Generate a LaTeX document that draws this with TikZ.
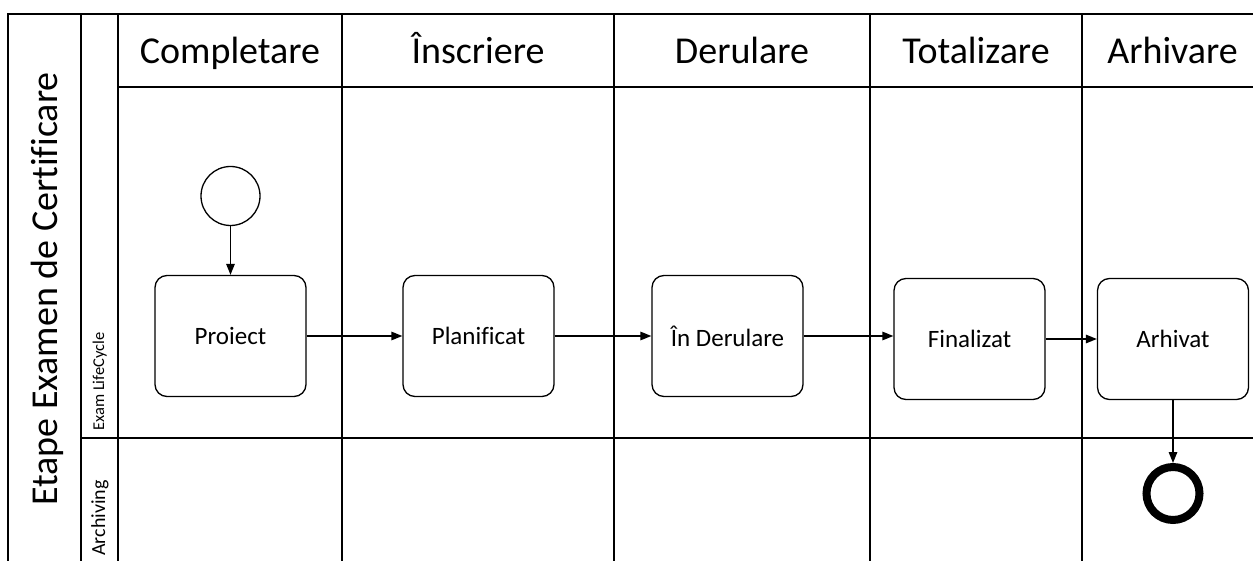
\documentclass[tikz,border=0pt]{standalone}
\usepackage{fontspec}
\setmainfont{Carlito}[Ligatures=NoCommon]
\usetikzlibrary{arrows.meta}
\begin{document}
\begin{tikzpicture}[x=1pt,y=-1pt,
  frame/.style={line width=1.8pt},
  state/.style={draw, line width=1.3pt, rounded corners=12pt,
    minimum width=151pt, minimum height=121pt, inner sep=0pt,
    font=\fontsize{25}{30}\selectfont},
  event/.style={draw, circle, inner sep=0pt},
  flow/.style={line width=1.4pt, -{Triangle[length=11pt,width=8.5pt]}},
  header/.style={anchor=base, font=\fontsize{38}{44}\selectfont},
  lanelabel/.style={anchor=base, rotate=90},
]
\useasboundingbox (0,0) rectangle (1253,561);

% pool, lanes and phase columns
\begin{scope}
  \clip (0,0) rectangle (1253,561);
  \draw[frame] (8,600) -- (8,14) -- (1300,14);
  \draw[frame] (81,14) -- (81,600);
  \draw[frame] (118,14) -- (118,600);
  \draw[frame] (118,87) -- (1300,87);
  \draw[frame] (81,438) -- (1300,438);
  \foreach \x in {342,614,870,1082} \draw[frame] (\x,14) -- (\x,600);
\end{scope}

% pool and lane titles
\node[lanelabel, font=\fontsize{38}{44}\selectfont] (pool) at (57,289) {Etape Examen de Certificare};
\node[lanelabel, font=\fontsize{16.5}{20}\selectfont] (lane1) at (104,381.5) {Exam LifeCycle};
\node[lanelabel, font=\fontsize{20}{24}\selectfont] (lane2) at (105,518) {Archiving};

% phase headers
\node[header] (ph1) at (230,64) {Completare};
\node[header] (ph2) at (478,64) {Înscriere};
\node[header] (ph3) at (742,64) {Derulare};
\node[header] (ph4) at (976,64) {Totalizare};
\node[header] (ph5) at (1172.5,64) {Arhivare};

% states
\node[state] (proiect) at (230.5,336) {Proiect};
\node[state] (planificat) at (478.5,336) {Planificat};
\node[state] (derulare) at (727.5,336) {În Derulare};
\node[state] (finalizat) at (969.5,339) {Finalizat};
\node[state] (arhivat) at (1173,339) {Arhivat};

% start and end events
\node[event, line width=1.3pt, minimum size=59pt] (start) at (230.5,196) {};
\node[event, line width=8pt, minimum size=53pt] (end) at (1173,493.5) {};

% transitions
\draw[flow] (start) -- (proiect);
\draw[flow] (proiect.east) -- (proiect.east -| planificat.west);
\draw[flow] (planificat.east) -- (planificat.east -| derulare.west);
\draw[flow] (derulare.east) -- (derulare.east -| finalizat.west);
\draw[flow] (finalizat.east) -- (finalizat.east -| arhivat.west);
\draw[flow] (arhivat) -- (end);
\end{tikzpicture}
\end{document}
